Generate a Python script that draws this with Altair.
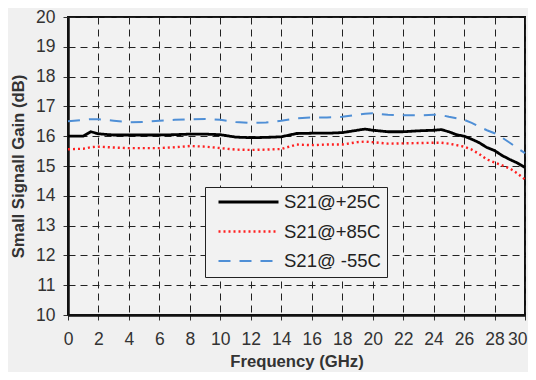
import altair as alt
import pandas as pd

freq = [0, 1, 1.5, 2, 3, 4, 5, 6, 7, 8, 9, 10, 11, 12, 13, 14, 15, 16, 17, 18, 19, 19.5,
        20, 21, 22, 23, 24, 24.5, 25, 25.5, 26, 26.5, 27, 27.5, 28, 28.5, 29, 29.5, 30]

s21_p25 = [16.00, 16.00, 16.15, 16.08, 16.04, 16.04, 16.04, 16.04, 16.05, 16.07, 16.07, 16.05,
           15.97, 15.95, 15.96, 15.98, 16.09, 16.10, 16.10, 16.12, 16.20, 16.24, 16.20, 16.15,
           16.15, 16.18, 16.20, 16.22, 16.15, 16.05, 16.00, 15.90, 15.78, 15.62, 15.52, 15.35,
           15.22, 15.10, 14.95]
s21_p85 = [15.56, 15.58, 15.63, 15.65, 15.62, 15.60, 15.60, 15.60, 15.63, 15.67, 15.65, 15.60,
           15.55, 15.54, 15.55, 15.57, 15.72, 15.70, 15.72, 15.72, 15.80, 15.82, 15.80, 15.75,
           15.76, 15.77, 15.78, 15.78, 15.75, 15.70, 15.65, 15.55, 15.40, 15.22, 15.12, 15.02,
           14.92, 14.75, 14.55]
s21_m55 = [16.50, 16.55, 16.57, 16.57, 16.52, 16.47, 16.48, 16.52, 16.55, 16.57, 16.58, 16.55,
           16.48, 16.44, 16.46, 16.52, 16.60, 16.63, 16.63, 16.65, 16.72, 16.75, 16.77, 16.72,
           16.70, 16.70, 16.72, 16.71, 16.65, 16.60, 16.55, 16.45, 16.32, 16.20, 16.10, 15.95,
           15.78, 15.60, 15.43]

series_names = ["S21@+25C", "S21@+85C", "S21@ -55C"]
series_values = [s21_p25, s21_p85, s21_m55]

rows = []
for name, vals in zip(series_names, series_values):
    for f, v in zip(freq, vals):
        rows.append({"freq": f, "gain": v, "series": name})
df = pd.DataFrame(rows)

x_ticks = list(range(0, 31, 2))
y_ticks = list(range(10, 21, 1))

FONT = "Liberation Sans"

chart = alt.Chart(df).mark_line(interpolate="linear").encode(
    x=alt.X("freq:Q", title="Frequency (GHz)",
            scale=alt.Scale(domain=[0, 30], nice=False),
            axis=alt.Axis(values=x_ticks, format="d", labelFlush=False,
                          labelAlign={"condition": {"test": "datum.value == 30", "value": "right"},
                                      "value": "center"},
                          labelOffset={"condition": {"test": "datum.value == 30", "value": 2},
                                       "value": 0})),
    y=alt.Y("gain:Q", title="Small Signall Gain (dB)",
            scale=alt.Scale(domain=[10, 20], nice=False),
            axis=alt.Axis(values=y_ticks, format="d", labelFlush=False)),
    color=alt.Color("series:N", sort=series_names,
                    scale=alt.Scale(domain=series_names, range=["#000000", "#ff2020", "#4f8fd6"]),
                    legend=alt.Legend(title=None, orient="none", legendX=137, legendY=170,
                                      symbolType="stroke", symbolSize=3600,
                                      symbolOffset=6, clipHeight=18,
                                      fillColor="#f2f2f2", strokeColor="#222222",
                                      padding=6, rowPadding=10.5, labelOffset=4,
                                      labelFontSize=18.5, labelFont=FONT, labelColor="#222222",
                                      labelExpr="datum.label + '  '",
                                      labelLimit=300)),
    strokeDash=alt.StrokeDash("series:N", sort=series_names,
                              scale=alt.Scale(domain=series_names, range=[[1, 0], [2, 3], [12, 9]]),
                              legend=None),
    strokeWidth=alt.StrokeWidth("series:N", sort=series_names,
                                scale=alt.Scale(domain=series_names, range=[2.8, 2, 3]),
                                legend=None),
).properties(
    width=457, height=298,
    background="#f0f0f0",
    padding={"left": 60, "top": 9, "right": 3, "bottom": 57},
    autosize=alt.AutoSizeParams(type="none"),
).configure_view(
    stroke="#111111", strokeWidth=2, fill="#f2f2f2"
).configure_axis(
    grid=True, gridColor="#222222", gridDash=[7, 5], gridWidth=1,
    domainColor="#111111", domainWidth=2.5,
    tickColor="#333333", tickSize=5,
    labelFont=FONT, labelFontSize=17.5, labelColor="#333333",
    titleFont=FONT, titleFontSize=16.7, titleFontWeight="bold", titleColor="#333333",
).configure_axisX(
    labelPadding=10, titlePadding=6
).configure_axisY(
    labelPadding=8, titlePadding=8
)

chart.save("out.html", embed_options={"renderer": "svg", "actions": False})
